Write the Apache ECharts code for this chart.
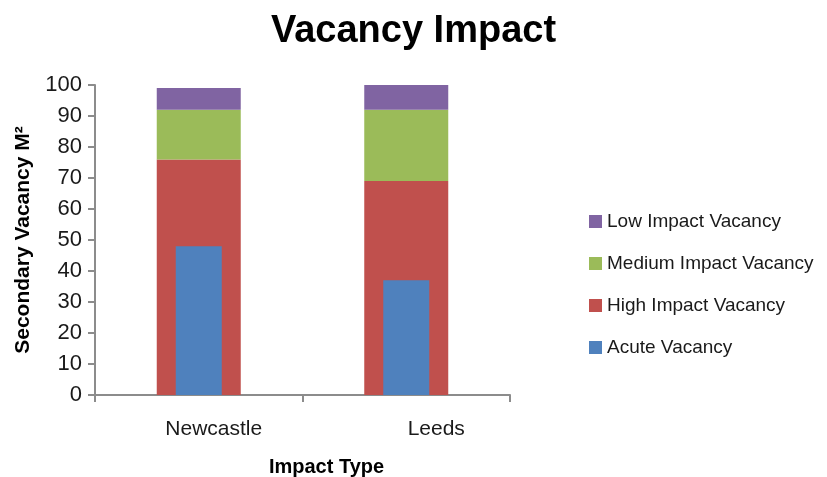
<!DOCTYPE html>
<html>
<head>
<meta charset="utf-8">
<script src="https://cdn.jsdelivr.net/npm/echarts@6/dist/echarts.min.js"></script>
<style>
  html, body { margin: 0; padding: 0; background: #fff; }
  #chart { width: 827px; height: 477px; }
</style>
</head>
<body>
<div id="chart"></div>
<script>
// Cities on the category axis
const cities = ['Newcastle', 'Leeds'];

// Stacked vacancy bands (M²)
const highImpact = [76, 69];
const mediumImpact = [16, 23];
const lowImpact = [7, 8];

// Acute vacancy, drawn as a narrower bar over the stack
const acute = [48, 37];

// Value axis ticks
const yMin = 0, yMax = 100, yStep = 10;

const FONT = '"Liberation Sans", Arial, Helvetica, sans-serif';
const AXIS_GREY = '#8c8c8c';

const chart = echarts.init(document.getElementById('chart'), null, { renderer: 'canvas' });

const option = {
  backgroundColor: '#ffffff',
  animation: false,
  title: {
    text: 'Vacancy Impact',
    left: 'center',
    top: 8,
    textStyle: { fontFamily: FONT, fontSize: 38, fontWeight: 'bold', color: '#000' }
  },
  legend: {
    orient: 'vertical',
    left: 584,
    top: 207,
    itemWidth: 13,
    itemHeight: 13,
    itemGap: 23,
    icon: 'rect',
    textStyle: { fontFamily: FONT, fontSize: 19, color: '#1a1a1a' },
    data: ['Low Impact Vacancy', 'Medium Impact Vacancy', 'High Impact Vacancy', 'Acute Vacancy']
  },
  grid: { left: 95, right: 317, top: 85, bottom: 82, outerBoundsMode: 'none', containLabel: false },
  xAxis: [
    {
      type: 'category',
      data: cities,
      name: 'Impact Type',
      nameLocation: 'middle',
      nameGap: 62,
      nameTextStyle: { fontFamily: FONT, fontSize: 20, fontWeight: 'bold', color: '#000', padding: [0, 0, 0, 48] },
      axisLine: { lineStyle: { color: AXIS_GREY, width: 2 } },
      axisTick: { show: true, length: 7, inside: false, lineStyle: { color: AXIS_GREY, width: 2 } },
      axisLabel: {
        margin: 24,
        fontFamily: FONT,
        fontSize: 21,
        color: '#1a1a1a',
        formatter: function (v) { return v === 'Leeds' ? '{b|' + v + '}' : '{a|' + v + '}'; },
        rich: {
          a: { fontFamily: FONT, fontSize: 21, color: '#1a1a1a', padding: [0, 0, 0, 30] },
          b: { fontFamily: FONT, fontSize: 21, color: '#1a1a1a', padding: [0, 0, 0, 60] }
        }
      }
    },
    {
      type: 'category',
      data: cities,
      show: false
    }
  ],
  yAxis: {
    type: 'value',
    min: yMin,
    max: yMax,
    interval: yStep,
    name: 'Secondary Vacancy M²',
    nameLocation: 'middle',
    nameGap: 61,
    nameTextStyle: { fontFamily: FONT, fontSize: 21, fontWeight: 'bold', color: '#000' },
    axisLine: { show: true, lineStyle: { color: AXIS_GREY, width: 2 } },
    axisTick: { show: true, length: 7, lineStyle: { color: AXIS_GREY, width: 2 } },
    axisLabel: { margin: 13, fontFamily: FONT, fontSize: 22, color: '#1a1a1a' },
    splitLine: { show: false }
  },
  series: [
    {
      name: 'High Impact Vacancy',
      type: 'bar',
      stack: 'vacancy',
      xAxisIndex: 0,
      barWidth: 84,
      itemStyle: { color: '#C0504D' },
      data: highImpact
    },
    {
      name: 'Medium Impact Vacancy',
      type: 'bar',
      stack: 'vacancy',
      xAxisIndex: 0,
      barWidth: 84,
      itemStyle: { color: '#9BBB59' },
      data: mediumImpact
    },
    {
      name: 'Low Impact Vacancy',
      type: 'bar',
      stack: 'vacancy',
      xAxisIndex: 0,
      barWidth: 84,
      itemStyle: { color: '#8064A2' },
      data: lowImpact
    },
    {
      name: 'Acute Vacancy',
      type: 'bar',
      xAxisIndex: 1,
      barWidth: 46,
      z: 3,
      itemStyle: { color: '#4F81BD' },
      data: acute
    }
  ]
};

chart.setOption(option);
</script>
</body>
</html>
